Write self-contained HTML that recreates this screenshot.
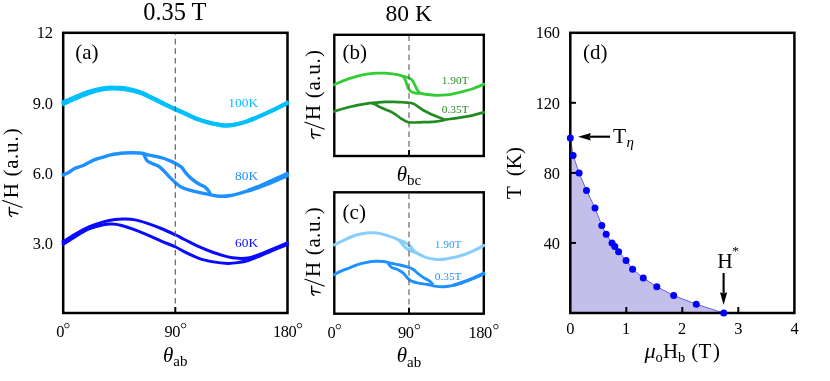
<!DOCTYPE html>
<html><head><meta charset="utf-8"><title>Figure</title>
<style>
html,body{margin:0;padding:0;background:#fff;}
svg{display:block;font-family:"Liberation Serif",serif;will-change:transform;}
text{font-family:"Liberation Serif",serif;}
.i{font-style:italic;}
</style></head><body>
<svg width="830" height="381" viewBox="0 0 830 381">
<rect width="830" height="381" fill="#fff"/>

<!-- panel d fill -->
<polygon points="570.3,137.9 573.1,155.4 579.1,172.9 586.5,190.4 595.0,207.9 601.8,225.4 606.2,234.2 612.0,243.0 614.8,246.5 618.6,251.7 626.1,260.5 632.6,269.2 643.3,278.0 656.8,286.7 673.7,295.5 696.3,304.2 723.7,313.0 570.3,313.0" fill="#C4BEEA"/>
<polyline points="570.3,137.9 573.1,155.4 579.1,172.9 586.5,190.4 595.0,207.9 601.8,225.4 606.2,234.2 612.0,243.0 614.8,246.5 618.6,251.7 626.1,260.5 632.6,269.2 643.3,278.0 656.8,286.7 673.7,295.5 696.3,304.2 723.7,313.0" fill="none" stroke="#5A4FE0" stroke-width="0.9"/>

<!-- frames -->
<rect x="63.20" y="32.80" width="224.30" height="280.20" fill="none" stroke="#000" stroke-width="2.5"/>
<rect x="334.30" y="34.80" width="149.50" height="121.20" fill="none" stroke="#000" stroke-width="2.4"/>
<rect x="334.30" y="192.30" width="149.50" height="121.40" fill="none" stroke="#000" stroke-width="2.4"/>
<rect x="570.30" y="32.80" width="224.10" height="280.20" fill="none" stroke="#000" stroke-width="2.5"/>

<!-- ticks -->
<g stroke="#000" stroke-width="2" fill="none">
<line x1="175.3" y1="307" x2="175.3" y2="312"/>
<line x1="409.0" y1="150" x2="409.0" y2="155"/>
<line x1="409.0" y1="307.8" x2="409.0" y2="313"/>
<line x1="626.3" y1="307" x2="626.3" y2="312"/>
<line x1="682.3" y1="307" x2="682.3" y2="312"/>
<line x1="738.3" y1="307" x2="738.3" y2="312"/>
<line x1="571" y1="102.8" x2="576" y2="102.8"/>
<line x1="571" y1="172.9" x2="576" y2="172.9"/>
<line x1="571" y1="242.9" x2="576" y2="242.9"/>
</g>

<!-- curves -->
<path d="M62.0 102.8C64.1 101.9 70.0 99.2 74.5 97.3C79.0 95.4 84.1 93.1 88.9 91.6C93.7 90.1 99.3 88.8 103.4 88.1C107.5 87.4 109.9 87.4 113.5 87.5C117.1 87.5 120.7 87.5 125.0 88.2C129.3 89.0 134.7 90.2 139.5 91.9C144.3 93.6 149.2 96.3 154.0 98.6C158.8 100.9 164.8 104.1 168.4 105.9C172.0 107.7 173.0 108.0 175.7 109.2C178.4 110.4 180.6 111.3 184.5 113.1C188.4 114.8 194.1 117.9 198.9 119.7C203.7 121.4 208.6 122.7 213.4 123.7C218.2 124.7 223.0 125.6 227.8 125.5C232.6 125.4 237.5 124.2 242.3 122.9C247.1 121.6 251.9 119.5 256.7 117.5C261.5 115.5 265.9 113.5 271.2 111.0C276.5 108.5 285.7 103.8 288.6 102.4" fill="none" stroke="#00BFFF" stroke-width="4" stroke-linecap="butt" stroke-linejoin="round" />
<path d="M62.0 104.6C64.1 103.6 70.0 100.8 74.5 98.9C79.0 97.0 84.1 94.6 88.9 93.0C93.7 91.4 99.3 90.0 103.4 89.3C107.5 88.6 109.9 88.6 113.5 88.5C117.1 88.5 120.7 88.5 125.0 89.2C129.3 89.9 134.7 91.0 139.5 92.7C144.3 94.4 149.2 96.9 154.0 99.2C158.8 101.5 164.8 104.6 168.4 106.3C172.0 108.0 173.0 108.4 175.7 109.6C178.4 110.7 180.6 111.6 184.5 113.3C188.4 115.0 194.1 118.0 198.9 119.7C203.7 121.5 208.6 122.7 213.4 123.7C218.2 124.7 223.0 125.6 227.8 125.5C232.6 125.4 237.5 124.2 242.3 122.9C247.1 121.6 251.9 119.5 256.7 117.5C261.5 115.5 265.9 113.5 271.2 111.0C276.5 108.5 285.7 103.8 288.6 102.4" fill="none" stroke="#00BFFF" stroke-width="4" stroke-linecap="butt" stroke-linejoin="round" />
<text x="228.3" y="106.7" font-size="13.4" fill="#00BFFF">100K</text>
<path d="M62.0 175.5C63.1 175.0 66.6 173.7 68.7 172.5C70.8 171.3 72.3 169.7 74.5 168.6C76.7 167.5 79.3 167.0 81.7 166.0C84.1 165.0 86.5 163.6 88.9 162.4C91.3 161.2 93.7 160.0 96.1 159.1C98.5 158.2 101.0 157.8 103.4 157.1C105.8 156.4 108.2 155.5 110.6 154.9C113.0 154.3 115.4 154.0 117.8 153.7C120.2 153.4 122.7 153.2 125.1 153.0C127.5 152.8 129.9 152.7 132.3 152.7C134.7 152.7 137.6 152.8 139.5 153.0C141.4 153.2 142.2 153.3 143.9 153.7C145.6 154.1 146.7 154.5 149.6 155.2C152.5 155.8 158.1 156.8 161.2 157.6C164.3 158.4 166.0 159.2 168.4 160.2C170.8 161.2 173.5 162.2 175.7 163.4C177.9 164.6 179.9 165.7 181.6 167.3C183.3 168.9 184.2 171.2 185.9 173.1C187.6 175.0 189.5 177.1 191.7 178.9C193.9 180.7 196.7 182.7 198.9 184.0C201.1 185.3 203.1 185.8 204.7 186.9C206.3 188.0 207.3 189.3 208.3 190.5C209.3 191.7 210.1 193.6 210.5 194.2" fill="none" stroke="#1E90FF" stroke-width="3.4" stroke-linecap="butt" stroke-linejoin="round" />
<path d="M143.5 153.7C144.0 154.8 145.4 158.6 146.7 160.2C148.0 161.8 149.2 162.1 151.1 163.1C153.0 164.1 156.1 164.7 158.3 166.0C160.5 167.3 162.2 169.2 164.1 171.1C166.0 173.0 167.9 175.4 169.9 177.4C171.9 179.4 173.9 181.3 175.8 183.0C177.8 184.7 179.4 186.2 181.6 187.3C183.8 188.4 185.9 189.0 188.8 189.8C191.7 190.7 195.3 191.6 198.9 192.4C202.5 193.2 206.9 194.2 210.5 194.8C214.1 195.5 217.2 196.2 220.6 196.3C224.0 196.4 227.1 196.1 230.7 195.5C234.3 194.9 238.4 193.7 242.3 192.6C246.2 191.5 250.3 190.0 253.9 188.7C257.5 187.4 260.6 186.1 264.0 184.7C267.4 183.3 270.0 182.2 274.1 180.4C278.2 178.6 286.2 175.1 288.6 174.0" fill="none" stroke="#1E90FF" stroke-width="3.4" stroke-linecap="butt" stroke-linejoin="round" />
<path d="M248.0 190.8C249.3 190.3 253.3 188.7 256.0 187.6C258.7 186.5 261.0 185.5 264.0 184.2C267.0 182.9 270.0 181.6 274.1 179.8C278.2 178.0 286.2 174.3 288.6 173.2" fill="none" stroke="#1E90FF" stroke-width="3.8" stroke-linecap="butt" stroke-linejoin="round" />
<path d="M248.0 190.8C249.3 190.4 253.3 189.1 256.0 188.2C258.7 187.3 261.0 186.5 264.0 185.3C267.0 184.1 270.0 182.9 274.1 181.2C278.2 179.5 286.2 176.0 288.6 175.0" fill="none" stroke="#1E90FF" stroke-width="3.8" stroke-linecap="butt" stroke-linejoin="round" />
<text x="235" y="179.6" font-size="13.4" fill="#1E90FF">80K</text>
<path d="M62.0 242.6C64.1 241.3 70.0 237.2 74.5 234.6C79.0 232.0 84.1 229.0 88.9 226.9C93.7 224.8 99.1 223.1 103.4 221.9C107.7 220.7 111.3 220.0 114.9 219.5C118.5 219.0 121.7 218.9 125.1 219.0C128.5 219.1 131.6 219.2 135.2 219.9C138.8 220.6 142.4 221.7 146.7 223.1C151.0 224.5 156.4 226.5 161.2 228.5C166.0 230.5 171.8 233.2 175.7 235.0C179.6 236.8 180.6 237.6 184.5 239.5C188.4 241.4 194.1 244.5 198.9 246.7C203.7 248.9 208.6 250.8 213.4 252.5C218.2 254.2 223.7 255.9 227.8 256.9C231.9 257.9 234.5 258.1 237.9 258.3C241.3 258.5 245.0 258.4 248.1 257.9C251.2 257.4 252.8 256.8 256.7 255.4C260.6 254.0 265.9 251.8 271.2 249.6C276.5 247.4 285.7 243.6 288.6 242.4" fill="none" stroke="#0A0AFF" stroke-width="3.0" stroke-linecap="butt" stroke-linejoin="round" />
<path d="M62.0 245.0C64.1 243.7 70.0 239.8 74.5 237.1C79.0 234.4 84.1 231.1 88.9 229.0C93.7 226.9 99.6 225.5 103.4 224.7C107.2 223.9 109.1 223.9 112.0 224.0C114.9 224.1 117.3 224.4 120.7 225.2C124.1 226.0 128.0 227.3 132.3 228.9C136.6 230.5 141.9 232.6 146.7 234.6C151.5 236.6 156.4 239.0 161.2 241.1C166.0 243.2 171.8 245.2 175.7 247.0C179.6 248.8 180.6 249.9 184.5 251.8C188.4 253.7 194.1 256.6 198.9 258.3C203.7 260.0 208.6 261.0 213.4 261.9C218.2 262.8 223.7 263.3 227.8 263.4C231.9 263.5 234.5 263.1 237.9 262.6C241.3 262.1 244.5 261.6 248.1 260.5C251.7 259.4 255.8 257.7 259.6 256.1C263.5 254.5 266.4 253.1 271.2 251.1C276.0 249.1 285.7 245.2 288.6 244.0" fill="none" stroke="#0A0AFF" stroke-width="3.0" stroke-linecap="butt" stroke-linejoin="round" />
<text x="235" y="246.7" font-size="13.4" fill="#0A0AFF">60K</text>
<path d="M333.2 85.2C334.5 84.6 338.5 82.8 341.0 81.7C343.5 80.7 345.6 79.8 348.4 78.9C351.2 78.0 354.5 77.0 357.6 76.2C360.7 75.4 363.7 74.7 366.8 74.2C369.9 73.7 372.9 73.4 376.0 73.2C379.1 73.0 382.1 73.0 385.2 73.2C388.3 73.4 391.3 73.7 394.4 74.2C397.5 74.7 401.0 75.6 403.6 76.3C406.2 77.0 408.6 77.6 410.1 78.4C411.7 79.2 412.0 79.7 412.9 81.1C413.8 82.5 414.8 85.1 415.6 86.6C416.4 88.1 416.7 89.2 417.5 90.3C418.3 91.4 418.5 92.4 420.2 93.1C421.9 93.8 424.9 94.1 427.6 94.5C430.4 94.9 433.6 95.2 436.7 95.3C439.8 95.4 442.8 95.2 445.9 94.9C449.0 94.6 452.0 94.0 455.1 93.4C458.2 92.8 461.2 92.0 464.3 91.2C467.4 90.4 470.1 89.7 473.5 88.5C476.9 87.3 483.1 84.7 485.0 83.9" fill="none" stroke="#32CD32" stroke-width="2.8" stroke-linecap="butt" stroke-linejoin="round" />
<path d="M402.5 76.0C402.9 76.4 404.0 77.2 404.6 78.4C405.2 79.6 405.8 81.3 406.4 83.0C407.0 84.7 407.5 87.1 408.3 88.5C409.1 89.9 409.6 90.8 411.0 91.6C412.4 92.4 415.0 93.0 416.5 93.3C418.0 93.6 419.6 93.4 420.2 93.4" fill="none" stroke="#32CD32" stroke-width="2.8" stroke-linecap="butt" stroke-linejoin="round" />
<text x="441.8" y="83.6" font-size="11.4" fill="#259425">1.90T</text>
<path d="M333.2 111.8C334.5 111.4 338.5 110.0 341.0 109.3C343.5 108.5 345.6 108.0 348.4 107.3C351.2 106.6 354.5 105.7 357.6 105.1C360.7 104.5 363.7 104.0 366.8 103.6C369.9 103.2 372.9 103.0 376.0 102.7C379.1 102.4 382.1 102.0 385.2 101.9C388.3 101.8 391.3 101.8 394.4 101.9C397.5 102.0 401.5 102.2 403.6 102.3C405.8 102.4 405.8 102.4 407.3 102.6C408.9 102.8 411.0 102.8 412.9 103.5C414.8 104.2 416.6 105.6 418.4 106.8C420.2 108.0 421.8 109.3 423.9 110.5C426.0 111.7 428.8 113.1 431.2 114.2C433.6 115.3 436.3 116.3 438.6 117.3C440.9 118.2 443.9 119.5 445.0 119.9" fill="none" stroke="#228B22" stroke-width="2.7" stroke-linecap="butt" stroke-linejoin="round" />
<path d="M372.0 103.2C372.6 103.4 374.2 104.0 375.5 104.6C376.8 105.2 377.3 105.9 379.7 107.0C382.1 108.1 387.2 110.0 390.0 111.3C392.8 112.6 394.4 113.8 396.2 115.0C398.0 116.2 399.4 117.4 400.8 118.3C402.2 119.2 403.2 119.9 404.5 120.6C405.8 121.2 407.1 121.9 408.4 122.2C409.6 122.5 410.2 122.5 412.0 122.5C413.8 122.5 416.6 122.4 419.2 122.3C421.8 122.2 424.9 122.2 427.6 122.1C430.3 122.0 433.3 121.9 435.5 121.7C437.7 121.5 439.3 121.2 441.0 120.8C442.7 120.4 443.5 120.0 445.9 119.6C448.2 119.2 452.0 118.8 455.1 118.3C458.2 117.8 461.2 117.4 464.3 116.9C467.4 116.4 470.1 115.9 473.5 115.1C476.9 114.3 483.1 112.6 485.0 112.1" fill="none" stroke="#228B22" stroke-width="2.7" stroke-linecap="butt" stroke-linejoin="round" />
<text x="441.8" y="113.1" font-size="11.4" fill="#228B22">0.35T</text>
<path d="M333.2 245.4C334.5 244.8 338.5 242.9 341.0 241.7C343.5 240.5 345.6 239.2 348.4 238.0C351.2 236.8 354.5 235.5 357.6 234.7C360.7 233.9 364.4 233.3 366.8 233.0C369.2 232.7 370.2 232.7 372.3 232.8C374.4 232.9 376.9 232.9 379.7 233.4C382.5 233.9 386.5 235.4 388.9 236.1C391.3 236.8 392.0 237.0 394.0 237.8C396.0 238.6 399.0 239.9 401.1 240.8C403.2 241.7 404.9 242.3 406.4 243.2C407.9 244.0 408.9 244.9 410.0 245.9C411.1 246.9 411.6 248.3 412.7 249.4C413.8 250.5 414.1 251.3 416.3 252.6C418.5 253.9 422.3 256.3 425.7 257.4C429.1 258.5 433.3 259.1 436.7 259.4C440.1 259.7 442.8 259.4 445.9 259.0C449.0 258.6 452.0 257.9 455.1 257.2C458.2 256.4 461.2 255.6 464.3 254.5C467.4 253.4 470.1 252.4 473.5 250.8C476.9 249.2 483.1 245.9 485.0 244.9" fill="none" stroke="#87CEFA" stroke-width="3.0" stroke-linecap="butt" stroke-linejoin="round" />
<path d="M399.3 240.3C399.7 240.8 401.2 242.4 401.9 243.3C402.6 244.2 402.8 244.7 403.5 245.5C404.2 246.3 405.0 247.2 406.0 247.9C407.0 248.7 408.2 249.3 409.5 250.0C410.8 250.7 412.2 251.3 413.5 251.8C414.8 252.3 416.4 252.8 417.0 253.0" fill="none" stroke="#87CEFA" stroke-width="3.2" stroke-linecap="butt" stroke-linejoin="round" />
<text x="434.7" y="248.3" font-size="11.4" fill="#3598FF">1.90T</text>
<path d="M333.2 275.2C334.5 274.5 338.5 272.2 341.0 271.1C343.5 270.0 345.6 269.4 348.4 268.3C351.2 267.2 354.5 265.7 357.6 264.7C360.7 263.7 363.7 263.0 366.8 262.4C369.9 261.8 373.2 261.4 376.0 261.3C378.8 261.2 380.9 261.2 383.3 261.5C385.8 261.8 387.9 262.6 390.7 263.2C393.5 263.8 397.1 264.4 399.9 265.0C402.7 265.6 405.1 266.2 407.3 266.9C409.5 267.6 411.0 268.1 412.9 269.3C414.8 270.5 416.6 272.5 418.4 273.9C420.2 275.3 422.1 276.7 423.9 277.9C425.7 279.1 427.9 279.8 429.4 280.9C430.9 282.0 432.5 284.1 433.1 284.7" fill="none" stroke="#1E90FF" stroke-width="2.9" stroke-linecap="butt" stroke-linejoin="round" />
<path d="M388.0 263.0C388.6 263.7 389.9 266.3 391.6 267.4C393.3 268.5 396.0 268.8 398.0 269.8C400.0 270.8 402.0 272.0 403.6 273.4C405.2 274.8 406.3 276.8 407.5 278.0C408.7 279.2 409.2 280.0 411.0 280.9C412.8 281.8 415.6 282.5 418.4 283.1C421.2 283.7 424.6 283.9 427.6 284.5C430.7 285.1 433.9 286.0 436.7 286.4C439.4 286.8 441.3 286.9 444.1 286.7C446.9 286.5 450.2 286.0 453.3 285.3C456.4 284.6 459.1 283.6 462.5 282.5C465.9 281.4 469.8 280.0 473.5 278.5C477.2 277.0 483.1 274.3 485.0 273.5" fill="none" stroke="#1E90FF" stroke-width="2.9" stroke-linecap="butt" stroke-linejoin="round" />
<path d="M453.3 285.3C454.8 284.8 459.1 283.5 462.5 282.3C465.9 281.1 469.8 279.6 473.5 278.0C477.2 276.4 483.1 273.7 485.0 272.8" fill="none" stroke="#1E90FF" stroke-width="3.4" stroke-linecap="butt" stroke-linejoin="round" />
<text x="434.7" y="280.1" font-size="11.4" fill="#1E90FF">0.35T</text>

<!-- dashed guide lines -->
<g stroke="#585858" stroke-width="1.1" fill="none" stroke-dasharray="5.7 3.9">
<line x1="175.3" y1="34.1" x2="175.3" y2="307" stroke-dashoffset="5.0"/>
<line x1="409.0" y1="36.0" x2="409.0" y2="151" stroke-dashoffset="0.6"/>
<line x1="409.0" y1="193.5" x2="409.0" y2="308" stroke-dashoffset="0.3"/>
</g>

<!-- panel d dots -->
<circle cx="570.3" cy="137.9" r="3.5" fill="#0000FF"/>
<circle cx="573.1" cy="155.4" r="3.5" fill="#0000FF"/>
<circle cx="579.1" cy="172.9" r="3.5" fill="#0000FF"/>
<circle cx="586.5" cy="190.4" r="3.5" fill="#0000FF"/>
<circle cx="595.0" cy="207.9" r="3.5" fill="#0000FF"/>
<circle cx="601.8" cy="225.4" r="3.5" fill="#0000FF"/>
<circle cx="606.2" cy="234.2" r="3.5" fill="#0000FF"/>
<circle cx="612.0" cy="243.0" r="3.5" fill="#0000FF"/>
<circle cx="614.8" cy="246.5" r="3.5" fill="#0000FF"/>
<circle cx="618.6" cy="251.7" r="3.5" fill="#0000FF"/>
<circle cx="626.1" cy="260.5" r="3.5" fill="#0000FF"/>
<circle cx="632.6" cy="269.2" r="3.5" fill="#0000FF"/>
<circle cx="643.3" cy="278.0" r="3.5" fill="#0000FF"/>
<circle cx="656.8" cy="286.7" r="3.5" fill="#0000FF"/>
<circle cx="673.7" cy="295.5" r="3.5" fill="#0000FF"/>
<circle cx="696.3" cy="304.2" r="3.5" fill="#0000FF"/>
<circle cx="723.7" cy="313.0" r="3.5" fill="#0000FF"/>

<!-- arrows -->
<g fill="#000" stroke="none">
<path d="M578.1 136.7L590.8 133.0L589.6 136.7L590.8 140.4Z"/>
<rect x="589.6" y="135.65" width="20.4" height="2.1"/>
<path d="M723.6 304.9L720.0 292.2L723.6 293.4L727.2 292.2Z"/>
<rect x="722.55" y="273.0" width="2.1" height="20.5"/>
</g>

<!-- titles -->
<text x="143.2" y="19.8" font-size="24.4">0.35 T</text>
<text x="385.5" y="21.4" font-size="23.6">80 K</text>

<!-- panel letters -->
<g font-size="21">
<text x="75.2" y="59.2">(a)</text>
<text x="342.6" y="59.2">(b)</text>
<text x="342.6" y="219.3">(c)</text>
<text x="583.1" y="59.2">(d)</text>
</g>

<!-- tick labels -->
<g font-size="16.4" letter-spacing="-0.15">
<text x="52.9" y="38.2" text-anchor="end">12</text>
<text x="52.9" y="108.5" text-anchor="end">9.0</text>
<text x="52.9" y="178.6" text-anchor="end">6.0</text>
<text x="52.9" y="248.6" text-anchor="end">3.0</text>
<text letter-spacing="-0.4" x="56.3" y="337.4">0</text>
<text letter-spacing="-0.4" x="164.4" y="337.4">90</text>
<text letter-spacing="-0.4" x="272.9" y="337.4">180</text>
<text letter-spacing="-0.4" x="327.6" y="338.2">0</text>
<text letter-spacing="-0.4" x="398.0" y="338.2">90</text>
<text letter-spacing="-0.4" x="468.5" y="338.2">180</text>
<text x="559.8" y="38.3" text-anchor="end">160</text>
<text x="559.8" y="108.5" text-anchor="end">120</text>
<text x="559.8" y="179.2" text-anchor="end">80</text>
<text x="559.8" y="249.2" text-anchor="end">40</text>
<text x="570.3" y="333.6" text-anchor="middle">0</text>
<text x="626.0" y="333.6" text-anchor="middle">1</text>
<text x="682.0" y="333.6" text-anchor="middle">2</text>
<text x="738.3" y="333.6" text-anchor="middle">3</text>
<text x="794.5" y="333.6" text-anchor="middle">4</text>
</g>

<!-- degree signs -->
<g fill="none" stroke="#000" stroke-width="0.8">
<circle cx="66.85" cy="325.6" r="2.3"/>
<circle cx="183.55" cy="325.6" r="2.3"/>
<circle cx="299.45" cy="325.6" r="2.3"/>
<circle cx="338.35" cy="326.6" r="2.3"/>
<circle cx="417.4" cy="326.6" r="2.3"/>
<circle cx="495.85" cy="326.6" r="2.3"/>
</g>

<!-- axis labels -->
<g font-size="21">
<text x="163.0" y="361.6"><tspan class="i">θ</tspan><tspan font-size="15" dy="4.2">ab</tspan></text>
<text x="396.7" y="180.8"><tspan class="i">θ</tspan><tspan font-size="15" dy="4.2">bc</tspan></text>
<text x="396.7" y="362.4"><tspan class="i">θ</tspan><tspan font-size="15" dy="4.2">ab</tspan></text>
<g transform="translate(18.1,217.0) rotate(-90)"><path d="M9.9 -8.8L2.7 -8.6Q1.3 -8.3 0.5 -6.5" fill="none" stroke="#000" stroke-width="1.35" stroke-linecap="round"/><path d="M4.9 -8.5Q4.3 -4 3.3 -0.4" fill="none" stroke="#000" stroke-width="1.5" stroke-linecap="round"/><line x1="9.6" y1="4.3" x2="16.8" y2="-15.9" stroke="#000" stroke-width="1.05"/><text x="18.8" y="0">H</text><text y="0"><tspan x="40.6">(</tspan><tspan x="48.3">a</tspan><tspan x="57.9">.</tspan><tspan x="64.0">u</tspan><tspan x="75.4">.</tspan><tspan x="81.7">)</tspan></text></g>
<g transform="translate(320.4,138.8) rotate(-90)"><path d="M9.9 -8.8L2.7 -8.6Q1.3 -8.3 0.5 -6.5" fill="none" stroke="#000" stroke-width="1.35" stroke-linecap="round"/><path d="M4.9 -8.5Q4.3 -4 3.3 -0.4" fill="none" stroke="#000" stroke-width="1.5" stroke-linecap="round"/><line x1="9.6" y1="4.3" x2="16.8" y2="-15.9" stroke="#000" stroke-width="1.05"/><text x="18.8" y="0">H</text><text y="0"><tspan x="40.6">(</tspan><tspan x="48.3">a</tspan><tspan x="57.9">.</tspan><tspan x="64.0">u</tspan><tspan x="75.4">.</tspan><tspan x="81.7">)</tspan></text></g>
<g transform="translate(320.4,295.9) rotate(-90)"><path d="M9.9 -8.8L2.7 -8.6Q1.3 -8.3 0.5 -6.5" fill="none" stroke="#000" stroke-width="1.35" stroke-linecap="round"/><path d="M4.9 -8.5Q4.3 -4 3.3 -0.4" fill="none" stroke="#000" stroke-width="1.5" stroke-linecap="round"/><line x1="9.6" y1="4.3" x2="16.8" y2="-15.9" stroke="#000" stroke-width="1.05"/><text x="18.8" y="0">H</text><text y="0"><tspan x="40.6">(</tspan><tspan x="48.3">a</tspan><tspan x="57.9">.</tspan><tspan x="64.0">u</tspan><tspan x="75.4">.</tspan><tspan x="81.7">)</tspan></text></g>
<g transform="translate(521.1,199.0) rotate(-90)"><text x="0" y="0">T</text><text x="22.8" y="0">(K)</text></g>
<g font-size="20.8"><text class="i" x="644.5" y="358.4" textLength="11.2" lengthAdjust="spacingAndGlyphs">μ</text><text x="655.4" y="362.2" font-size="14.5">o</text><text x="663.0" y="358.4">H</text><text x="677.9" y="362.2" font-size="14.5">b</text><text x="691.3" y="358.4">(</text><text x="698.6" y="358.4">T</text><text x="713.1" y="358.4">)</text></g>
<text x="613.0" y="143.0" font-size="21.5">T<tspan class="i" font-size="15" dy="4.0" dx="0.3">η</tspan></text>
<text x="717.2" y="268.2" font-size="21.5">H</text><text x="732.3" y="254.8" font-size="13.5">*</text>
</g>
</svg>
</body></html>
